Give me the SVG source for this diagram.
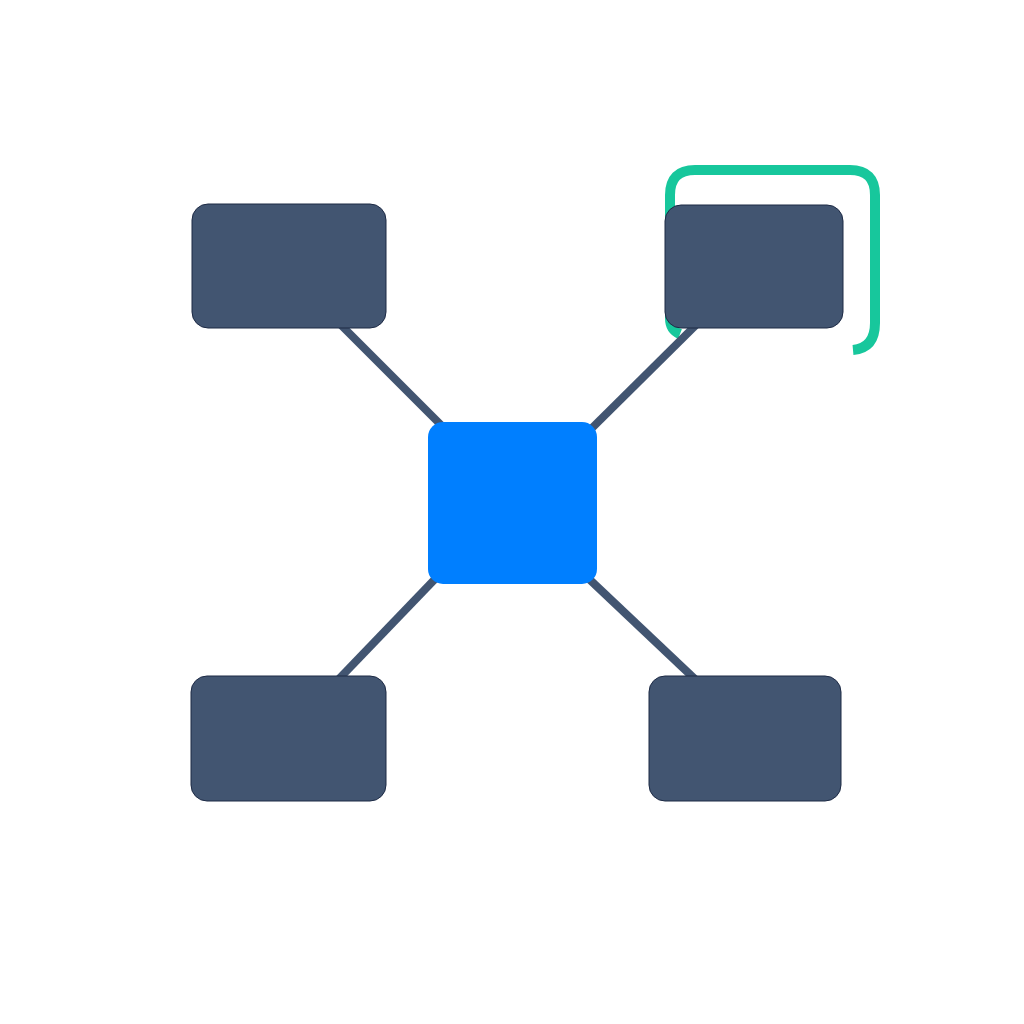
<svg xmlns="http://www.w3.org/2000/svg" width="1024" height="1024" viewBox="0 0 1024 1024">
<style>
.node{fill:#425571;stroke:#1d2a45;stroke-width:1}
.hub{fill:#007fff}
.edge{stroke:#425571;stroke-width:8;fill:none;stroke-linecap:butt}
.hl{stroke:#17c79c;stroke-width:10;fill:none}
</style>
<rect width="1024" height="1024" fill="#ffffff"/>
<g id="highlight">
<path class="hl" d="M680,334 Q670,330 670,318 L670,195 Q670,170 695,170 L850,170 Q875,170 875,195 L875,323 Q875,348 853,350"/>
</g>
<g id="connectors">
<line class="edge" x1="338" y1="322" x2="442" y2="426"/>
<line class="edge" x1="697" y1="324" x2="590" y2="430"/>
<line class="edge" x1="436" y1="578" x2="336" y2="682"/>
<line class="edge" x1="588" y1="578" x2="698" y2="682"/>
</g>
<g id="node-top-left"><rect class="node" x="192" y="204" width="194" height="124" rx="16"/></g>
<g id="node-top-right"><rect class="node" x="665" y="205" width="178" height="123" rx="16"/></g>
<g id="node-center"><rect class="hub" x="428" y="422" width="169" height="162" rx="15"/></g>
<g id="node-bottom-left"><rect class="node" x="191" y="676" width="195" height="125" rx="16"/></g>
<g id="node-bottom-right"><rect class="node" x="649" y="676" width="192" height="125" rx="16"/></g>
</svg>
